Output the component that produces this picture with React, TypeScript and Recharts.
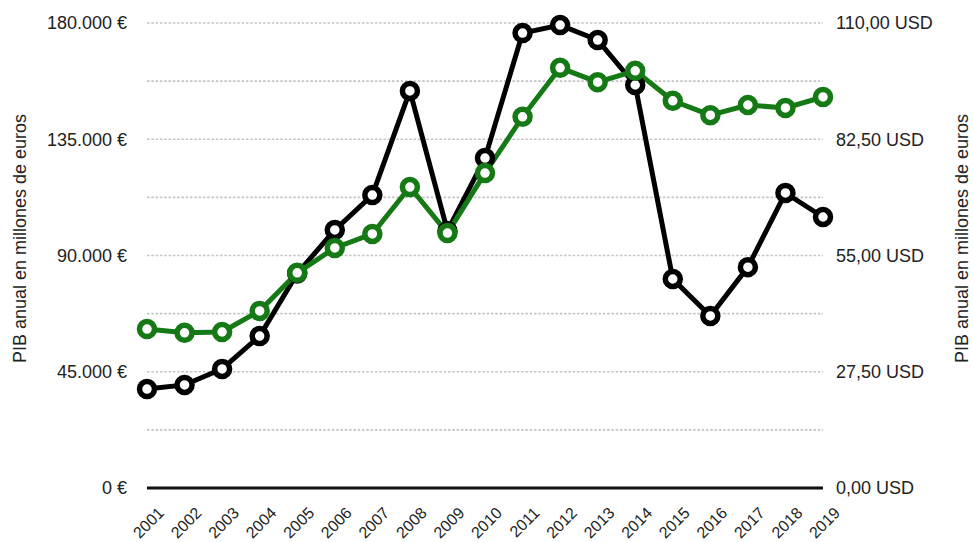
import { LineChart, Line, XAxis, YAxis, CartesianGrid } from 'recharts';

const years = ['2001', '2002', '2003', '2004', '2005', '2006', '2007', '2008', '2009', '2010', '2011', '2012', '2013', '2014', '2015', '2016', '2017', '2018', '2019'];
// serie negra, eje izquierdo (euros)
const pibEur = [38300, 39900, 46100, 58800, 83000, 99900, 113400, 153700, 99500, 127700, 176100, 179200, 173400, 156000, 80900, 66600, 85500, 114200, 104900];
// serie verde, eje derecho (USD)
const pibUsd = [37.6, 36.7, 36.9, 41.9, 50.9, 56.8, 60.1, 71.2, 60.3, 74.5, 87.8, 99.4, 96.0, 98.7, 91.6, 88.2, 90.6, 89.9, 92.5];
const eurTicks = [0, 22500, 45000, 67500, 90000, 112500, 135000, 157500, 180000];
const usdTicks = [0, 27.5, 55, 82.5, 110];
const axisTitle = 'PIB anual en millones de euros';

const data = years.map((year, i) => ({ year, eur: pibEur[i], usd: pibUsd[i] }));

const FONT = '"Liberation Sans", Arial, sans-serif';
const TEXT = '#222';
const GREEN = '#157a15';

const formatEur = (v: number) =>
  v % 45000 === 0 ? `${String(v).replace(/\B(?=(\d{3})+(?!\d))/g, '.')} €` : '';
const formatUsd = (v: number) => `${v.toFixed(2).replace('.', ',')} USD`;

const YearTick = ({ x, y, payload }: { x?: number; y?: number; payload?: { value: string } }) => {
  const ax = (x ?? 0) + 18;
  const ay = (y ?? 0) + 26;
  return (
    <text
      x={ax}
      y={ay}
      transform={`rotate(-45, ${ax}, ${ay})`}
      textAnchor="end"
      fontSize={16}
      fontFamily={FONT}
      fill={TEXT}
    >
      {payload?.value}
    </text>
  );
};

const AxisTitle = ({ viewBox, cx }: { viewBox?: { y: number; height: number }; cx: number }) => {
  const cy = (viewBox?.y ?? 0) + (viewBox?.height ?? 0) / 2 - 17;
  return (
    <text
      x={cx}
      y={cy}
      transform={`rotate(-90, ${cx}, ${cy})`}
      textAnchor="middle"
      dominantBaseline="central"
      fontSize={18}
      fontFamily={FONT}
      fill={TEXT}
    >
      {axisTitle}
    </text>
  );
};

export default function App() {
  return (
    <div style={{ position: 'absolute', left: 0, top: 0, background: '#fff' }}>
      <LineChart width={973} height={542} data={data} margin={{ top: 23, right: 0, bottom: 0, left: 0 }}>
        <CartesianGrid
          yAxisId="left"
          vertical={false}
          stroke="#c4c4c4"
          strokeWidth={1.6}
          strokeDasharray="2.5 1.8"
        />
        <XAxis
          dataKey="year"
          height={54}
          tickSize={0}
          tickMargin={0}
          tickLine={false}
          axisLine={{ stroke: '#111', strokeWidth: 3 }}
          tick={<YearTick />}
          interval={0}
        />
        <YAxis
          yAxisId="left"
          orientation="left"
          width={147}
          domain={[0, 180000]}
          ticks={eurTicks}
          tickFormatter={formatEur}
          tickLine={false}
          axisLine={false}
          tickSize={0}
          tickMargin={20}
          tick={{ fontSize: 18, fontFamily: FONT, fill: TEXT }}
          label={{ content: <AxisTitle cx={20} /> }}
        />
        <YAxis
          yAxisId="right"
          orientation="right"
          width={150}
          domain={[0, 110]}
          ticks={usdTicks}
          tickFormatter={formatUsd}
          tickLine={false}
          axisLine={false}
          tickSize={0}
          tickMargin={13}
          tick={{ fontSize: 18, fontFamily: FONT, fill: TEXT, textAnchor: 'start' }}
          label={{ content: <AxisTitle cx={962} /> }}
        />
        <Line
          yAxisId="left"
          type="linear"
          dataKey="eur"
          stroke="#000"
          strokeWidth={5}
          dot={{ r: 7.5, fill: '#fff', stroke: '#000', strokeWidth: 5.5 }}
          activeDot={false}
          isAnimationActive={false}
        />
        <Line
          yAxisId="right"
          type="linear"
          dataKey="usd"
          stroke={GREEN}
          strokeWidth={5}
          dot={{ r: 7.5, fill: '#fff', stroke: GREEN, strokeWidth: 5.5 }}
          activeDot={false}
          isAnimationActive={false}
        />
      </LineChart>
    </div>
  );
}
